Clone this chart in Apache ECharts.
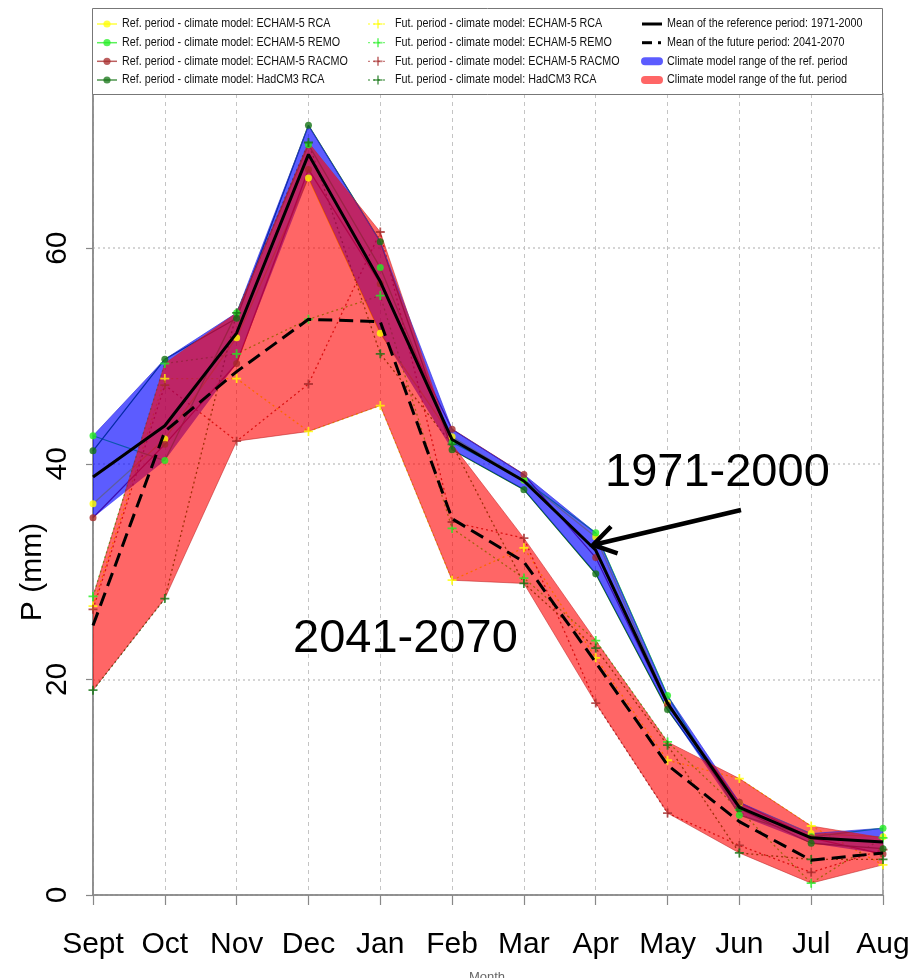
<!DOCTYPE html>
<html>
<head>
<meta charset="utf-8">
<script src="https://cdn.jsdelivr.net/npm/echarts@6/dist/echarts.min.js"></script>
<style>
  html, body { margin: 0; padding: 0; background: #fff; }
  #chart { width: 914px; height: 978px; }
</style>
</head>
<body>
<div id="chart"></div>
<script>
// Monthly precipitation (mm), hydrological year September to August
const months = ['Sept', 'Oct', 'Nov', 'Dec', 'Jan', 'Feb', 'Mar', 'Apr', 'May', 'Jun', 'Jul', 'Aug'];
const modelNames = ['ECHAM-5 RCA', 'ECHAM-5 REMO', 'ECHAM-5 RACMO', 'HadCM3 RCA'];
const yTicks = [0, 20, 40, 60];

// Reference period 1971-2000
const refEchamRCA   = [36.3, 42.3, 51.7, 66.5, 52.1, 42.5, 38.5, 33.2, 17.8, 8.5, 5.7, 5.4];
const refEchamREMO  = [42.6, 40.3, 54.0, 69.6, 58.2, 42.0, 38.5, 33.6, 18.5, 7.4, 5.4, 6.2];
const refEchamRACMO = [35.0, 41.8, 49.3, 67.3, 56.7, 43.2, 39.0, 31.3, 17.6, 8.6, 5.3, 3.8];
const refHadRCA     = [41.2, 49.7, 53.5, 71.4, 60.6, 41.3, 37.6, 29.8, 17.2, 8.0, 4.8, 4.3];

// Future period 2041-2070
const futEchamRCA   = [26.8, 47.9, 47.9, 43.0, 45.4, 29.2, 32.2, 22.0, 12.5, 10.8, 6.4, 2.8];
const futEchamREMO  = [27.7, 49.3, 50.2, 53.4, 55.6, 34.0, 29.4, 23.6, 14.2, 7.9, 1.1, 5.3];
const futEchamRACMO = [26.5, 47.3, 42.1, 47.4, 61.5, 34.6, 33.1, 17.8, 7.6, 4.6, 2.1, 4.2];
const futHadRCA     = [19.0, 27.5, 54.0, 69.8, 50.2, 41.8, 28.9, 22.9, 13.9, 3.9, 3.3, 3.3];

const refModels = [refEchamRCA, refEchamREMO, refEchamRACMO, refHadRCA];
const futModels = [futEchamRCA, futEchamREMO, futEchamRACMO, futHadRCA];
const modelColors = ['#FFFF00', '#22EE22', '#A52A2A', '#137313'];

const byMonth = (arrs, fn) => months.map((_, i) => fn(arrs.map(a => a[i])));
const avg = v => v.reduce((s, x) => s + x, 0) / v.length;
const refMean = byMonth(refModels, avg);
const futMean = byMonth(futModels, avg);
const refLow  = byMonth(refModels, v => Math.min(...v));
const refSpan = byMonth(refModels, v => Math.max(...v) - Math.min(...v));
const futLow  = byMonth(futModels, v => Math.min(...v));
const futSpan = byMonth(futModels, v => Math.max(...v) - Math.min(...v));

const PLUS = 'path://M4,0H6V4H10V6H6V10H4V6H0V4H4Z';
const FONT = "'Liberation Sans', Arial, Helvetica, sans-serif";

const series = [];
// individual model lines (drawn beneath the range bands)
modelNames.forEach((name, i) => {
  series.push({
    name: 'Ref. ' + name, type: 'line', data: refModels[i], showSymbol: false, z: 2, silent: true,
    lineStyle: { color: modelColors[i], width: 1.3 }
  });
  series.push({
    name: 'Fut. ' + name, type: 'line', data: futModels[i], showSymbol: false, z: 2, silent: true,
    lineStyle: { color: modelColors[i], width: 1.3, type: [2, 3] }
  });
});
// climate model ranges as stacked bands
series.push(
  { name: 'refLow', type: 'line', stack: 'refRange', data: refLow, showSymbol: false, z: 3, silent: true,
    lineStyle: { opacity: 0 } },
  { name: 'refRange', type: 'line', stack: 'refRange', data: refSpan, showSymbol: false, z: 3, silent: true,
    lineStyle: { width: 0.8, color: 'rgba(50,50,220,0.8)' },
    areaStyle: { color: 'rgba(0,0,255,0.64)', opacity: 1 } },
  { name: 'futLow', type: 'line', stack: 'futRange', data: futLow, showSymbol: false, z: 3, silent: true,
    lineStyle: { width: 0.8, color: 'rgba(190,40,40,0.7)' } },
  { name: 'futRange', type: 'line', stack: 'futRange', data: futSpan, showSymbol: false, z: 3, silent: true,
    lineStyle: { width: 0.8, color: 'rgba(200,40,40,0.7)' },
    areaStyle: { color: 'rgba(255,0,0,0.6)', opacity: 1 } }
);
// model markers on top of the bands
modelNames.forEach((name, i) => {
  series.push({
    type: 'scatter', data: refModels[i], symbol: 'circle', symbolSize: 7, z: 4, silent: true,
    itemStyle: { color: modelColors[i] }
  });
  series.push({
    type: 'scatter', data: futModels[i], symbol: PLUS, symbolSize: 9, z: 4, silent: true,
    itemStyle: { color: modelColors[i] }
  });
});
// ensemble means
series.push(
  { name: 'Mean of the reference period: 1971-2000', type: 'line', data: refMean, showSymbol: false, z: 5,
    silent: true, lineStyle: { color: '#000', width: 3 } },
  { name: 'Mean of the future period: 2041-2070', type: 'line', data: futMean, showSymbol: false, z: 5,
    silent: true, lineStyle: { color: '#000', width: 3, type: [14, 7] } }
);

// legend drawn as a framed key above the plot
const legendRowsY = [24, 42.7, 61.3, 80];
const legendEls = [{
  type: 'rect', shape: { x: 92.5, y: 8.5, width: 790, height: 86 },
  style: { fill: '#fff', stroke: '#777', lineWidth: 1 }, z: 10
}];
function legendText(x, y, text) {
  // condensed legend lettering
  return { type: 'text', x: x, y: y, scaleX: 0.86, z: 11,
    style: { text: text, fill: '#111', fontSize: 12.5, fontFamily: FONT,
      align: 'left', textAlign: 'left', verticalAlign: 'middle', textVerticalAlign: 'middle' } };
}
modelNames.forEach((name, i) => {
  const y = legendRowsY[i];
  const c = modelColors[i];
  legendEls.push(
    { type: 'line', shape: { x1: 97, y1: y, x2: 117, y2: y }, style: { stroke: c, lineWidth: 1.5, opacity: 0.75 }, z: 11 },
    { type: 'circle', shape: { cx: 107, cy: y, r: 3.6 }, style: { fill: c, opacity: 0.75 }, z: 11 },
    legendText(122, y, 'Ref. period - climate model: ' + name),
    { type: 'line', shape: { x1: 368, y1: y, x2: 388, y2: y }, style: { stroke: c, lineWidth: 1.3, lineDash: [2, 3], opacity: 0.6 }, z: 11 },
    { type: 'line', shape: { x1: 373.5, y1: y, x2: 382.5, y2: y }, style: { stroke: c, lineWidth: 1.8, opacity: 0.6 }, z: 11 },
    { type: 'line', shape: { x1: 378, y1: y - 4.5, x2: 378, y2: y + 4.5 }, style: { stroke: c, lineWidth: 1.8, opacity: 0.6 }, z: 11 },
    legendText(395, y, 'Fut. period - climate model: ' + name)
  );
});
legendEls.push(
  { type: 'line', shape: { x1: 642, y1: legendRowsY[0], x2: 662, y2: legendRowsY[0] }, style: { stroke: '#000', lineWidth: 3 }, z: 11 },
  legendText(667, legendRowsY[0], 'Mean of the reference period: 1971-2000'),
  { type: 'line', shape: { x1: 642, y1: legendRowsY[1], x2: 652, y2: legendRowsY[1] }, style: { stroke: '#000', lineWidth: 3 }, z: 11 },
  { type: 'line', shape: { x1: 658, y1: legendRowsY[1], x2: 661, y2: legendRowsY[1] }, style: { stroke: '#000', lineWidth: 3 }, z: 11 },
  legendText(667, legendRowsY[1], 'Mean of the future period: 2041-2070'),
  { type: 'rect', shape: { x: 641, y: legendRowsY[2] - 4, width: 22, height: 8, r: 4 }, style: { fill: 'rgba(0,0,255,0.64)' }, z: 11 },
  legendText(667, legendRowsY[2], 'Climate model range of the ref. period'),
  { type: 'rect', shape: { x: 641, y: legendRowsY[3] - 4, width: 22, height: 8, r: 4 }, style: { fill: 'rgba(255,0,0,0.6)' }, z: 11 },
  legendText(667, legendRowsY[3], 'Climate model range of the fut. period')
);

const annotationEls = [
  { type: 'text', x: 605, y: 473, z: 12,
    style: { text: '1971-2000', fill: '#000', fontSize: 47, fontFamily: FONT,
      align: 'left', textAlign: 'left', verticalAlign: 'middle', textVerticalAlign: 'middle' } },
  { type: 'text', x: 293, y: 639, z: 12,
    style: { text: '2041-2070', fill: '#000', fontSize: 47, fontFamily: FONT,
      align: 'left', textAlign: 'left', verticalAlign: 'middle', textVerticalAlign: 'middle' } },
  { type: 'polyline', z: 12, shape: { points: [[741, 510], [595, 544.5]] },
    style: { stroke: '#000', lineWidth: 4.5, fill: null } },
  { type: 'polyline', z: 12, shape: { points: [[611, 526.5], [593, 545], [617.6, 553.3]] },
    style: { stroke: '#000', lineWidth: 4.5, fill: null, lineJoin: 'miter' } },
  { type: 'text', x: 33, y: 572, rotation: Math.PI / 2, z: 12,
    style: { text: 'P (mm)', fill: '#000', fontSize: 30, fontFamily: FONT,
      align: 'center', textAlign: 'center', verticalAlign: 'middle', textVerticalAlign: 'middle' } },
  { type: 'text', x: 487, y: 971, z: 12,
    style: { text: 'Month', fill: '#666', fontSize: 13, fontFamily: FONT,
      align: 'center', textAlign: 'center', verticalAlign: 'top', textVerticalAlign: 'top' } }
];

const chart = echarts.init(document.getElementById('chart'), null, { renderer: 'canvas' });
chart.setOption({
  animation: false,
  backgroundColor: '#fff',
  grid: { left: 93, right: 31, top: 94, bottom: 83, show: true, borderColor: '#888', borderWidth: 1.5,
    backgroundColor: 'transparent' },
  xAxis: {
    type: 'category', data: months, boundaryGap: false,
    axisLine: { lineStyle: { color: '#888', width: 1.5 } },
    axisTick: { show: true, length: 10, lineStyle: { color: '#888', width: 1.2 } },
    axisLabel: { interval: 0, color: '#000', fontSize: 30, fontFamily: FONT, margin: 35 },
    splitLine: { show: true, lineStyle: { color: '#c4c4c4', width: 1, type: [4, 4] } }
  },
  yAxis: {
    type: 'value', min: 0, max: 74.3, interval: 20,
    axisLine: { show: true, lineStyle: { color: '#888', width: 1.5 } },
    axisTick: { show: true, length: 7, customValues: yTicks, lineStyle: { color: '#888', width: 1.2 } },
    axisLabel: { customValues: yTicks, rotate: 90, color: '#000', fontSize: 30, fontFamily: FONT, margin: 20 },
    splitLine: { show: true, lineStyle: { color: '#c8c8c8', width: 1.5, type: [2, 3] } }
  },
  series: series,
  graphic: { elements: legendEls.concat(annotationEls) }
});
</script>
</body>
</html>
